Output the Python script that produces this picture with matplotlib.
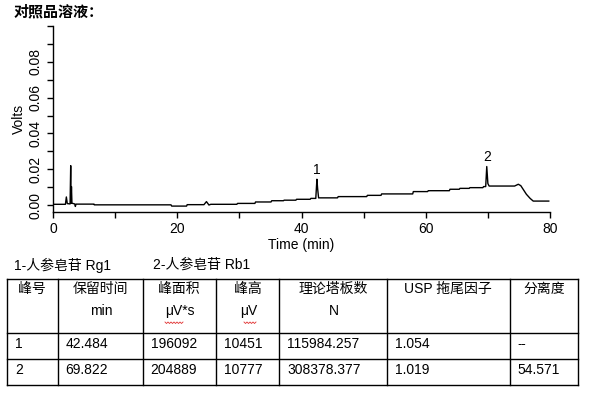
import matplotlib
matplotlib.use("Agg")
import matplotlib.pyplot as plt
from matplotlib.lines import Line2D
from matplotlib.ticker import MultipleLocator, FixedLocator, FormatStrFormatter
import numpy as np

plt.rcParams['font.family'] = ['Liberation Sans', 'Noto Sans CJK SC', 'DejaVu Sans']

# ---------------- data ----------------
title = "对照品溶液："
time_min = [0.0, 2.0, 2.15, 2.3, 2.75, 2.85, 2.9, 2.97, 3.05, 3.5, 3.6, 3.7,
            6.6, 6.65, 19.0, 19.1, 21.5, 21.6, 24.3, 24.7, 25.1, 25.4,
            29.6, 29.7, 32.5, 32.6, 35.1, 35.2, 37.1, 37.2, 39.1, 39.2,
            41.4, 41.5, 42.3, 42.48, 42.6, 42.75, 45.8, 45.9, 50.5, 50.6,
            52.8, 52.9, 57.9, 58.0, 60.3, 60.4, 63.8, 63.9, 65.4, 65.5,
            67.0, 67.1, 69.2, 69.3, 69.65, 69.82, 70.0, 70.2, 74.3, 74.9,
            75.3, 76.2, 76.8, 77.3, 79.8]
volts = [0.0004, 0.0004, 0.0045, 0.0008, 0.0006, 0.0220, 0.0010, 0.0103, 0.0010, 0.0006, -0.0008, 0.0005,
         0.0005, 0.0001, 0.0001, -0.0006, -0.0006, 0.0002, 0.0002, 0.0019, 0.0000, 0.0004,
         0.0004, 0.0009, 0.0009, 0.0017, 0.0017, 0.0024, 0.0024, 0.0027, 0.0027, 0.0032,
         0.0032, 0.0037, 0.0037, 0.0144, 0.0090, 0.0040, 0.0040, 0.0047, 0.0047, 0.0054,
         0.0054, 0.0062, 0.0062, 0.0075, 0.0075, 0.0080, 0.0080, 0.0088, 0.0088, 0.0093,
         0.0093, 0.0097, 0.0097, 0.0103, 0.0103, 0.0215, 0.0120, 0.0106, 0.0106, 0.0116,
         0.0108, 0.0060, 0.0037, 0.0022, 0.0022]
peak_labels = ["1", "2"]
peak_times = [42.484, 69.822]
peak_label_volts = [0.0196, 0.0267]

legend_items = ["1-人参皂苷 Rg1", "2-人参皂苷 Rb1"]
header_line1 = ["峰号", "保留时间", "峰面积", "峰高", "理论塔板数", "USP 拖尾因子", "分离度"]
header_line2 = ["", "min", "μV*s", "μV", "N", "", ""]
rows = [
    ["1", "42.484", "196092", "10451", "115984.257", "1.054", "--"],
    ["2", "69.822", "204889", "10777", "308378.377", "1.019", "54.571"],
]

# ---------------- figure ----------------
W, H = 591, 393
fig = plt.figure(figsize=(W / 100, H / 100), dpi=100)

def fx(px):
    return px / W

def fy(py):
    return 1 - py / H

# chart axes (pixel geometry: x 53..550, y 26..212)
ax = fig.add_axes([fx(53), fy(212), (550 - 53) / W, (212 - 26) / H])
ax.plot(time_min, volts, color="black", lw=1.0)
for lab, t, v in zip(peak_labels, peak_times, peak_label_volts):
    ax.text(t, v, lab, ha="center", va="center", fontsize=10)

ax.set_xlim(0, 80)
ax.set_ylim(-0.0039, 0.10)
ax.spines["top"].set_visible(False)
ax.spines["right"].set_visible(False)
for s in ("left", "bottom"):
    ax.spines[s].set_linewidth(1.0)

ax.xaxis.set_major_locator(MultipleLocator(20))
ax.xaxis.set_minor_locator(MultipleLocator(10))
ax.yaxis.set_major_locator(FixedLocator([0.0, 0.02, 0.04, 0.06, 0.08]))
ax.yaxis.set_minor_locator(FixedLocator([0.01, 0.03, 0.05, 0.07, 0.09, 0.10]))
ax.yaxis.set_major_formatter(FormatStrFormatter("%.2f"))
ax.tick_params(axis="both", which="both", direction="out", length=4.5, width=1.0,
               labelsize=10, pad=3)
for lbl in ax.get_yticklabels():
    lbl.set_rotation(90)
    lbl.set_va("center")
ax.set_xlabel("Time (min)", fontsize=10, labelpad=1)
ax.set_ylabel("Volts", fontsize=10, labelpad=2)

# title
fig.text(fx(14), fy(12), title, fontsize=10.8, fontweight="bold", ha="left", va="center")

# legend-like labels
fig.text(fx(14), fy(265), legend_items[0], fontsize=10, ha="left", va="center")
fig.text(fx(153), fy(265), legend_items[1], fontsize=10, ha="left", va="center")

# table
col_x = [7, 57.7, 142.7, 215.7, 279.3, 386.7, 509.7, 578.3]
row_y = [279, 332.7, 359, 385]
for y in row_y:
    fig.add_artist(Line2D([fx(col_x[0]), fx(col_x[-1])], [fy(y), fy(y)],
                          color="black", lw=1.0, transform=fig.transFigure))
for x in col_x:
    fig.add_artist(Line2D([fx(x), fx(x)], [fy(row_y[0]), fy(row_y[-1])],
                          color="black", lw=1.0, transform=fig.transFigure))

for i in range(len(header_line1)):
    cx = (col_x[i] + col_x[i + 1]) / 2
    fig.text(fx(cx), fy(289), header_line1[i], fontsize=10, ha="center", va="center")
    if header_line2[i]:
        fig.text(fx(cx + 1), fy(311), header_line2[i], fontsize=10, ha="center", va="center")

# red wavy spell-check underline under "μV"
for x0, x1 in [(165, 184), (244, 256)]:
    xs = np.arange(x0, x1 + 0.01, 1.5)
    ys = 322 + np.where(np.arange(len(xs)) % 2 == 0, 0, 1.5)
    fig.add_artist(Line2D(fx(xs), fy(ys), color="#e03030", lw=0.6,
                          transform=fig.transFigure))

row_text_y = [344.5, 370]
for r, row in enumerate(rows):
    for i, val in enumerate(row):
        kw = {}
        if val == "--":
            kw = dict(family=["DejaVu Sans"], fontsize=8.5)
        else:
            kw = dict(fontsize=10)
        fig.text(fx(col_x[i] + 8), fy(row_text_y[r]), val,
                 ha="left", va="center", **kw)

fig.savefig("out.png", dpi=100)
